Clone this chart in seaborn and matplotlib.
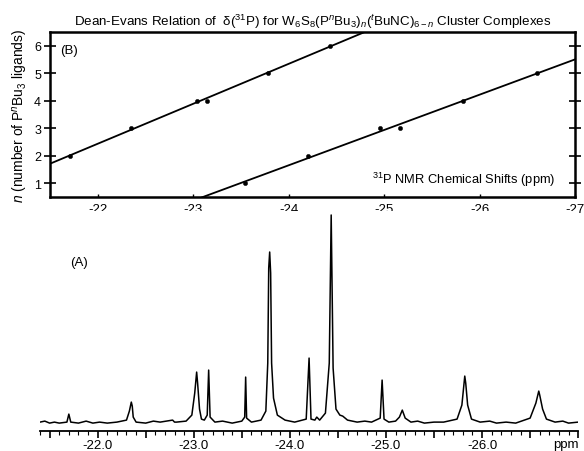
import numpy as np
import pandas as pd
import seaborn as sns
import matplotlib.pyplot as plt
from matplotlib.ticker import MultipleLocator, FuncFormatter

# (B) Dean-Evans data: shift (ppm) vs number of PnBu3 ligands
shift_a = [-21.71, -22.35, -23.04, -23.15, -23.78, -24.43]
n_a = [2, 3, 4, 4, 5, 6]
shift_b = [-23.54, -24.20, -24.96, -25.17, -25.83, -26.60]
n_b = [1, 2, 3, 3, 4, 5]

# (A) 31P spectrum trace (ppm, intensity)
spec_ppm = [-21.40, -21.45, -21.50, -21.55, -21.60, -21.68, -21.70, -21.72, -21.80, -21.88,
            -21.95, -22.02, -22.10, -22.20, -22.30, -22.33, -22.35, -22.36, -22.37, -22.40,
            -22.50, -22.58, -22.65, -22.78, -22.80, -22.82, -22.92, -22.98, -23.01, -23.03,
            -23.04, -23.06, -23.08, -23.11, -23.14, -23.155, -23.17, -23.22, -23.30, -23.40,
            -23.50, -23.53, -23.54, -23.55, -23.60, -23.70, -23.75, -23.77, -23.78, -23.79,
            -23.80, -23.81, -23.83, -23.87, -23.95, -24.05, -24.17, -24.20, -24.22, -24.26,
            -24.28, -24.31, -24.37, -24.41, -24.43, -24.45, -24.48, -24.52, -24.55, -24.60,
            -24.70, -24.78, -24.85, -24.94, -24.96, -24.98, -25.03, -25.10, -25.14, -25.17,
            -25.20, -25.26, -25.33, -25.40, -25.50, -25.60, -25.74, -25.79, -25.82, -25.83,
            -25.85, -25.89, -25.98, -26.08, -26.15, -26.25, -26.35, -26.50, -26.56, -26.59,
            -26.60, -26.63, -26.67, -26.76, -26.84, -26.90, -27.00]
spec_int = [1, 2, 0, 1, 0, 1, 9, 1, 0, 2,
            0, 1, 0, 1, 3, 12, 21, 17, 6, 1,
            0, 2, 1, 3, 1, 1, 2, 8, 30, 51,
            40, 14, 4, 3, 8, 53, 6, 1, 2, 0,
            2, 6, 46, 5, 1, 3, 12, 60, 155, 171,
            150, 60, 25, 8, 3, 1, 4, 65, 4, 3,
            6, 3, 10, 60, 208, 55, 14, 8, 7, 3,
            1, 2, 1, 5, 43, 4, 1, 2, 6, 13,
            5, 1, 2, 0, 1, 1, 4, 18, 47, 40,
            18, 4, 1, 2, 0, 1, 0, 5, 20, 32,
            28, 14, 4, 1, 2, 0, 1]

sns.set_style("ticks")
plt.rcParams['font.family'] = ['Liberation Sans', 'DejaVu Sans']
plt.rcParams['mathtext.fontset'] = 'custom'
plt.rcParams['mathtext.rm'] = 'Liberation Sans'
plt.rcParams['mathtext.it'] = 'Liberation Sans:italic'
plt.rcParams['axes.unicode_minus'] = False
plt.rcParams['text.color'] = 'black'
plt.rcParams['axes.labelcolor'] = 'black'
plt.rcParams['axes.edgecolor'] = 'black'
plt.rcParams['xtick.color'] = 'black'
plt.rcParams['ytick.color'] = 'black'

fig = plt.figure(figsize=(5.84, 4.52), dpi=100)
ax_b = fig.add_axes([0.0856, 0.562, 0.899, 0.365])
ax_a = fig.add_axes([0.0685, 0.044, 0.9215, 0.487])

# ---- panel B ----
ax_b.set_xlim(-21.5, -27.0)
ax_b.set_ylim(0.5, 6.5)
df_a = pd.DataFrame({'shift': shift_a, 'n': n_a})
df_b = pd.DataFrame({'shift': shift_b, 'n': n_b})
for d in (df_a, df_b):
    sns.regplot(data=d, x='shift', y='n', scatter=False, ci=None, truncate=False,
                color='black', line_kws={'lw': 1.3}, ax=ax_b)
    sns.scatterplot(data=d, x='shift', y='n', color='black', s=10, marker='o',
                    edgecolor='black', ax=ax_b, zorder=3)
ax_b.set_xlim(-21.5, -27.0)
ax_b.set_ylim(0.5, 6.5)
ax_b.set_xticks([-22, -23, -24, -25, -26, -27])
ax_b.set_yticks([1, 2, 3, 4, 5, 6])
ax_b.tick_params(axis='y', direction='inout', length=9, width=1.2, right=True,
                 labelsize=9, pad=2)
ax_b.tick_params(axis='x', direction='in', length=2, width=1, labelsize=9.5, pad=4)
for sp in ax_b.spines.values():
    sp.set_linewidth(1.8)
ax_b.set_xlabel('')
ax_b.set_ylabel(r'$n$ (number of P$^n$Bu$_3$ ligands)', fontsize=10, labelpad=3)
ax_b.set_title(r'Dean-Evans Relation of  δ($^{31}$P) for W$_6$S$_8$(P$^n$Bu$_3$)$_n$'
               r'($^t$BuNC)$_{6-n}$ Cluster Complexes', fontsize=9.6, pad=5)
ax_b.text(0.02, 0.87, '(B)', transform=ax_b.transAxes, fontsize=9.5)
ax_b.text(0.962, 0.055, r'$^{31}$P NMR Chemical Shifts (ppm)', transform=ax_b.transAxes,
          ha='right', va='bottom', fontsize=9.3)

# ---- panel A ----
df_s = pd.DataFrame({'ppm': spec_ppm, 'intensity': spec_int})
sns.lineplot(data=df_s, x='ppm', y='intensity', color='black', lw=1.1,
             estimator=None, ax=ax_a)
ax_a.set_xlim(-21.4, -27.0)
ax_a.set_ylim(-8, 212)
for s in ('left', 'right', 'top'):
    ax_a.spines[s].set_visible(False)
ax_a.spines['bottom'].set_linewidth(1.3)
ax_a.set_yticks([])
ax_a.xaxis.set_major_locator(MultipleLocator(0.5))
ax_a.xaxis.set_minor_locator(MultipleLocator(0.1))
ax_a.xaxis.set_major_formatter(FuncFormatter(
    lambda v, p: '%.1f' % v if abs(v - round(v)) < 1e-6 and v > -26.5 else ''))
ax_a.tick_params(axis='x', which='major', length=5, width=1.2, labelsize=9.5, pad=1)
ax_a.tick_params(axis='x', which='minor', length=3, width=0.8)
ax_a.set_xlabel('')
ax_a.set_ylabel('')
ax_a.text(1.0, -0.085, 'ppm', transform=ax_a.transAxes, ha='right', va='bottom',
          fontsize=9.5)
ax_a.text(0.056, 0.77, '(A)', transform=ax_a.transAxes, va='center', fontsize=9.5)

fig.savefig('out.png', dpi=100)
